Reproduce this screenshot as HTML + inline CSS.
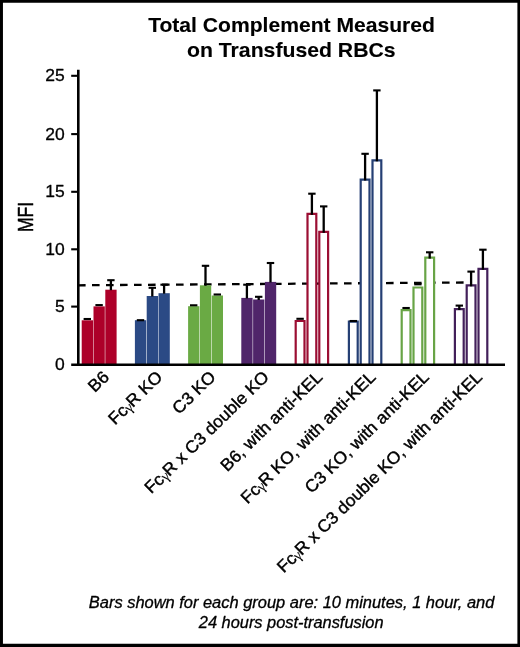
<!DOCTYPE html>
<html><head><meta charset="utf-8"><title>Total Complement Measured on Transfused RBCs</title>
<style>html,body{margin:0;padding:0;background:#fff}svg{display:block}text{font-family:"Liberation Sans",sans-serif;fill:#000}</style></head><body>
<svg width="520" height="647" viewBox="0 0 520 647">
<rect x="0" y="0" width="520" height="647" fill="#fff"/>
<line x1="78" y1="285.3" x2="464" y2="282.5" stroke="#000" stroke-width="2.3" stroke-dasharray="7.6 6.4"/>
<rect x="81.7" y="320.3" width="11.3" height="44.2" fill="#AD0029"/>
<line x1="83.6" y1="319.0" x2="91.0" y2="319.0" stroke="#000" stroke-width="2.1"/>
<rect x="93.5" y="306.4" width="11.3" height="58.1" fill="#AD0029"/>
<line x1="95.4" y1="305.1" x2="102.8" y2="305.1" stroke="#000" stroke-width="2.1"/>
<rect x="105.3" y="289.7" width="11.3" height="74.8" fill="#AD0029"/>
<line x1="110.9" y1="290.2" x2="110.9" y2="280.2" stroke="#000" stroke-width="2.3"/>
<line x1="107.2" y1="280.2" x2="114.6" y2="280.2" stroke="#000" stroke-width="2.1"/>
<rect x="134.9" y="320.2" width="11.3" height="44.3" fill="#2B4A85"/>
<line x1="136.8" y1="320.2" x2="144.2" y2="320.2" stroke="#000" stroke-width="2.1"/>
<rect x="146.7" y="296.0" width="11.3" height="68.5" fill="#2B4A85"/>
<line x1="152.3" y1="296.5" x2="152.3" y2="287.8" stroke="#000" stroke-width="2.3"/>
<line x1="148.6" y1="287.8" x2="156.0" y2="287.8" stroke="#000" stroke-width="2.1"/>
<rect x="158.5" y="293.2" width="11.3" height="71.3" fill="#2B4A85"/>
<line x1="164.1" y1="293.7" x2="164.1" y2="284.7" stroke="#000" stroke-width="2.3"/>
<line x1="160.4" y1="284.7" x2="167.8" y2="284.7" stroke="#000" stroke-width="2.1"/>
<rect x="188.1" y="306.2" width="11.3" height="58.3" fill="#6AAA44"/>
<line x1="190.0" y1="305.3" x2="197.4" y2="305.3" stroke="#000" stroke-width="2.1"/>
<rect x="199.9" y="285.3" width="11.3" height="79.2" fill="#6AAA44"/>
<line x1="205.5" y1="285.8" x2="205.5" y2="265.8" stroke="#000" stroke-width="2.3"/>
<line x1="201.8" y1="265.8" x2="209.2" y2="265.8" stroke="#000" stroke-width="2.1"/>
<rect x="211.7" y="295.5" width="11.3" height="69.0" fill="#6AAA44"/>
<line x1="213.6" y1="294.5" x2="221.0" y2="294.5" stroke="#000" stroke-width="2.1"/>
<rect x="241.3" y="297.9" width="11.3" height="66.6" fill="#50256A"/>
<line x1="246.9" y1="298.4" x2="246.9" y2="284.7" stroke="#000" stroke-width="2.3"/>
<line x1="243.2" y1="284.7" x2="250.6" y2="284.7" stroke="#000" stroke-width="2.1"/>
<rect x="253.1" y="299.5" width="11.3" height="65.0" fill="#50256A"/>
<line x1="258.7" y1="300.0" x2="258.7" y2="296.8" stroke="#000" stroke-width="2.3"/>
<line x1="255.0" y1="296.8" x2="262.4" y2="296.8" stroke="#000" stroke-width="2.1"/>
<rect x="264.9" y="281.9" width="11.3" height="82.6" fill="#50256A"/>
<line x1="270.5" y1="282.4" x2="270.5" y2="263.0" stroke="#000" stroke-width="2.3"/>
<line x1="266.8" y1="263.0" x2="274.2" y2="263.0" stroke="#000" stroke-width="2.1"/>
<path d="M295.70 364.5V321.00H304.50V364.5" fill="#fff" stroke="#9B0E33" stroke-width="2.2" stroke-linejoin="miter"/>
<line x1="296.4" y1="318.8" x2="303.8" y2="318.8" stroke="#000" stroke-width="2.1"/>
<path d="M307.50 364.5V213.90H316.30V364.5" fill="#fff" stroke="#9B0E33" stroke-width="2.2" stroke-linejoin="miter"/>
<line x1="311.9" y1="214.8" x2="311.9" y2="193.7" stroke="#000" stroke-width="2.3"/>
<line x1="308.2" y1="193.7" x2="315.6" y2="193.7" stroke="#000" stroke-width="2.1"/>
<path d="M319.30 364.5V231.90H328.10V364.5" fill="#fff" stroke="#9B0E33" stroke-width="2.2" stroke-linejoin="miter"/>
<line x1="323.7" y1="232.8" x2="323.7" y2="206.4" stroke="#000" stroke-width="2.3"/>
<line x1="320.0" y1="206.4" x2="327.4" y2="206.4" stroke="#000" stroke-width="2.1"/>
<path d="M348.90 364.5V321.70H357.70V364.5" fill="#fff" stroke="#253F74" stroke-width="2.2" stroke-linejoin="miter"/>
<line x1="349.6" y1="321.0" x2="357.0" y2="321.0" stroke="#000" stroke-width="2.1"/>
<path d="M360.70 364.5V179.60H369.50V364.5" fill="#fff" stroke="#253F74" stroke-width="2.2" stroke-linejoin="miter"/>
<line x1="365.1" y1="180.5" x2="365.1" y2="153.8" stroke="#000" stroke-width="2.3"/>
<line x1="361.4" y1="153.8" x2="368.8" y2="153.8" stroke="#000" stroke-width="2.1"/>
<path d="M372.50 364.5V160.40H381.30V364.5" fill="#fff" stroke="#253F74" stroke-width="2.2" stroke-linejoin="miter"/>
<line x1="376.9" y1="161.3" x2="376.9" y2="90.4" stroke="#000" stroke-width="2.3"/>
<line x1="373.2" y1="90.4" x2="380.6" y2="90.4" stroke="#000" stroke-width="2.1"/>
<path d="M401.70 364.5V310.10H410.50V364.5" fill="#fff" stroke="#68A446" stroke-width="2.2" stroke-linejoin="miter"/>
<line x1="402.4" y1="308.0" x2="409.8" y2="308.0" stroke="#000" stroke-width="2.1"/>
<path d="M413.50 364.5V287.50H422.30V364.5" fill="#fff" stroke="#68A446" stroke-width="2.2" stroke-linejoin="miter"/>
<line x1="414.2" y1="284.3" x2="421.6" y2="284.3" stroke="#000" stroke-width="2.1"/>
<path d="M425.30 364.5V257.70H434.10V364.5" fill="#fff" stroke="#68A446" stroke-width="2.2" stroke-linejoin="miter"/>
<line x1="429.7" y1="258.6" x2="429.7" y2="252.3" stroke="#000" stroke-width="2.3"/>
<line x1="426.0" y1="252.3" x2="433.4" y2="252.3" stroke="#000" stroke-width="2.1"/>
<path d="M454.90 364.5V309.10H463.70V364.5" fill="#fff" stroke="#43205A" stroke-width="2.2" stroke-linejoin="miter"/>
<line x1="459.3" y1="310.0" x2="459.3" y2="305.6" stroke="#000" stroke-width="2.3"/>
<line x1="455.6" y1="305.6" x2="463.0" y2="305.6" stroke="#000" stroke-width="2.1"/>
<path d="M466.70 364.5V285.40H475.50V364.5" fill="#fff" stroke="#43205A" stroke-width="2.2" stroke-linejoin="miter"/>
<line x1="471.1" y1="286.3" x2="471.1" y2="271.6" stroke="#000" stroke-width="2.3"/>
<line x1="467.4" y1="271.6" x2="474.8" y2="271.6" stroke="#000" stroke-width="2.1"/>
<path d="M478.50 364.5V268.80H487.30V364.5" fill="#fff" stroke="#43205A" stroke-width="2.2" stroke-linejoin="miter"/>
<line x1="482.9" y1="269.7" x2="482.9" y2="249.7" stroke="#000" stroke-width="2.3"/>
<line x1="479.2" y1="249.7" x2="486.6" y2="249.7" stroke="#000" stroke-width="2.1"/>
<line x1="78.3" y1="69.8" x2="78.3" y2="365.9" stroke="#000" stroke-width="2.6"/>
<line x1="71.2" y1="364.7" x2="505" y2="364.7" stroke="#000" stroke-width="2.5"/>
<line x1="71.2" y1="306.6" x2="78" y2="306.6" stroke="#000" stroke-width="2.1"/>
<line x1="71.2" y1="249.3" x2="78" y2="249.3" stroke="#000" stroke-width="2.1"/>
<line x1="71.2" y1="191.8" x2="78" y2="191.8" stroke="#000" stroke-width="2.1"/>
<line x1="71.2" y1="134.1" x2="78" y2="134.1" stroke="#000" stroke-width="2.1"/>
<line x1="71.2" y1="75.8" x2="78" y2="75.8" stroke="#000" stroke-width="2.1"/>
<g stroke="#000" stroke-width="0.4" stroke-linejoin="round">
<text transform="translate(64.8,370.0) scale(1.03,1)" stroke-width="0.3" font-size="17" text-anchor="end">0</text>
<text transform="translate(64.8,312.1) scale(1.03,1)" stroke-width="0.3" font-size="17" text-anchor="end">5</text>
<text transform="translate(64.8,254.8) scale(1.03,1)" stroke-width="0.3" font-size="17" text-anchor="end">10</text>
<text transform="translate(64.8,197.3) scale(1.03,1)" stroke-width="0.3" font-size="17" text-anchor="end">15</text>
<text transform="translate(64.8,139.6) scale(1.03,1)" stroke-width="0.3" font-size="17" text-anchor="end">20</text>
<text transform="translate(64.8,81.3) scale(1.03,1)" stroke-width="0.3" font-size="17" text-anchor="end">25</text>
<text transform="translate(33.1,217) rotate(-90) scale(1,1.27)" font-size="17.5" text-anchor="middle">MFI</text>
<text transform="translate(291.5,32.35) scale(1.05,1)" font-size="20.1" font-weight="bold" text-anchor="middle" stroke-width="0.12">Total Complement Measured</text>
<text transform="translate(291.3,57.35) scale(1.055,1)" font-size="20.1" font-weight="bold" text-anchor="middle" stroke-width="0.12">on Transfused RBCs</text>
<text transform="translate(110.1,378.1) rotate(-44.4) scale(1.032,1)" font-size="17" text-anchor="end">B6</text>
<text transform="translate(163.4,378.1) rotate(-44.4) scale(1.032,1)" font-size="17" text-anchor="end">Fc<tspan font-family="Liberation Serif, serif" font-size="14.5" stroke-width="0.1" dx="-0.3" dy="1.2">γ</tspan><tspan dx="-0.9" dy="-1.2">R</tspan> KO</text>
<text transform="translate(216.7,378.1) rotate(-44.4) scale(1.032,1)" font-size="17" text-anchor="end">C3 KO</text>
<text transform="translate(270.1,378.1) rotate(-44.4) scale(1.032,1)" font-size="17" text-anchor="end">Fc<tspan font-family="Liberation Serif, serif" font-size="14.5" stroke-width="0.1" dx="-0.3" dy="1.2">γ</tspan><tspan dx="-0.9" dy="-1.2">R</tspan> x C3 double KO</text>
<text transform="translate(323.4,378.1) rotate(-44.4) scale(1.032,1)" font-size="17" text-anchor="end">B6, with anti-KEL</text>
<text transform="translate(376.7,378.1) rotate(-44.4) scale(1.032,1)" font-size="17" text-anchor="end">Fc<tspan font-family="Liberation Serif, serif" font-size="14.5" stroke-width="0.1" dx="-0.3" dy="1.2">γ</tspan><tspan dx="-0.9" dy="-1.2">R</tspan> KO, with anti-KEL</text>
<text transform="translate(430.0,378.1) rotate(-44.4) scale(1.032,1)" font-size="17" text-anchor="end">C3 KO, with anti-KEL</text>
<text transform="translate(483.3,378.1) rotate(-44.4) scale(1.032,1)" font-size="17" text-anchor="end">Fc<tspan font-family="Liberation Serif, serif" font-size="14.5" stroke-width="0.1" dx="-0.3" dy="1.2">γ</tspan><tspan dx="-0.9" dy="-1.2">R</tspan> x C3 double KO, with anti-KEL</text>
<text transform="translate(291.6,608.2) scale(1.054,1)" stroke-width="0.3" font-size="15.6" font-style="italic" text-anchor="middle">Bars shown for each group are: 10 minutes, 1 hour, and</text>
<text transform="translate(291.2,627.9) scale(1.05,1)" stroke-width="0.3" font-size="15.6" font-style="italic" text-anchor="middle">24 hours post-transfusion</text>
</g>
<path d="M0 0H520V647H0Z M2.95 2.75V643.75H517.4V2.75Z" fill="#000" fill-rule="evenodd"/>
</svg></body></html>
